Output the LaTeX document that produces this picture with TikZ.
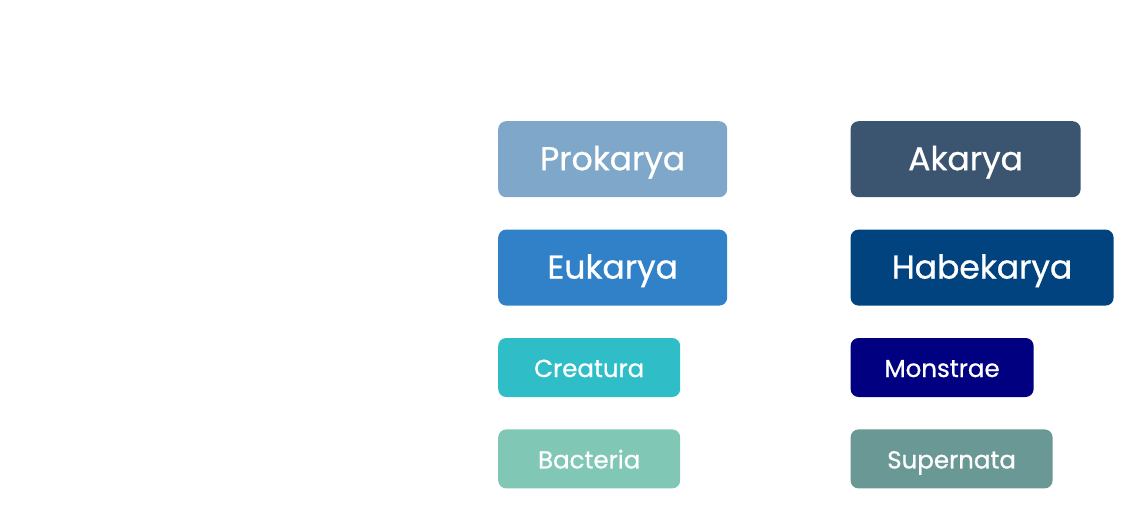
\documentclass[tikz,border=0pt]{standalone}
\usepackage{fontspec}
\setmainfont{Poppins}
\newfontfamily\boxfont{Poppins}[FakeBold=0.8]
\usepackage{xcolor}
\usetikzlibrary{positioning}

\definecolor{prokcol}{HTML}{7FA7CA}
\definecolor{akcol}{HTML}{3B5470}
\definecolor{eukcol}{HTML}{3181C9}
\definecolor{habcol}{HTML}{01437F}
\definecolor{creacol}{HTML}{2FBEC8}
\definecolor{moncol}{HTML}{000080}
\definecolor{bactcol}{HTML}{81C7B5}
\definecolor{supcol}{HTML}{6A9895}

\begin{document}
\begin{tikzpicture}[node distance=32pt]
\tikzset{
				bigbox/.style={
					rounded corners=8pt,
					text=white,
					minimum height=76pt,
					inner sep=0pt,
					text height=24pt,
					text depth=2pt,
					align=center,
					font=\boxfont\fontsize{33}{36}\selectfont
				},
				smallbox/.style={
					bigbox,
					minimum height=59pt,
					text height=20pt,
					text depth=1pt,
					font=\boxfont\fontsize{24.5}{27}\selectfont
				}
			}
			\useasboundingbox (0,0) rectangle (1143pt,-520pt);
			% left column
			\node[bigbox,fill=prokcol,minimum width=229pt,anchor=north west] (prok) at (498pt,-121pt) {Prokarya};
			\node[bigbox,fill=eukcol,minimum width=229pt,below=of prok.south west,anchor=north west] (euk) {Eukarya};
			\node[smallbox,fill=creacol,minimum width=182pt,below=of euk.south west,anchor=north west] (crea) {Creatura};
			\node[smallbox,fill=bactcol,minimum width=182pt,below=of crea.south west,anchor=north west] (bact) {Bacteria};
			% right column
			\node[bigbox,fill=akcol,minimum width=230pt,right=123pt of prok.north east,anchor=north west] (akar) {Akarya};
			\node[bigbox,fill=habcol,minimum width=263pt,below=of akar.south west,anchor=north west] (habe) {Habekarya};
			\node[smallbox,fill=moncol,minimum width=183pt,below=of habe.south west,anchor=north west] (mons) {Monstrae};
			\node[smallbox,fill=supcol,minimum width=202pt,below=of mons.south west,anchor=north west] (supe) {Supernata};
\end{tikzpicture}
\end{document}
